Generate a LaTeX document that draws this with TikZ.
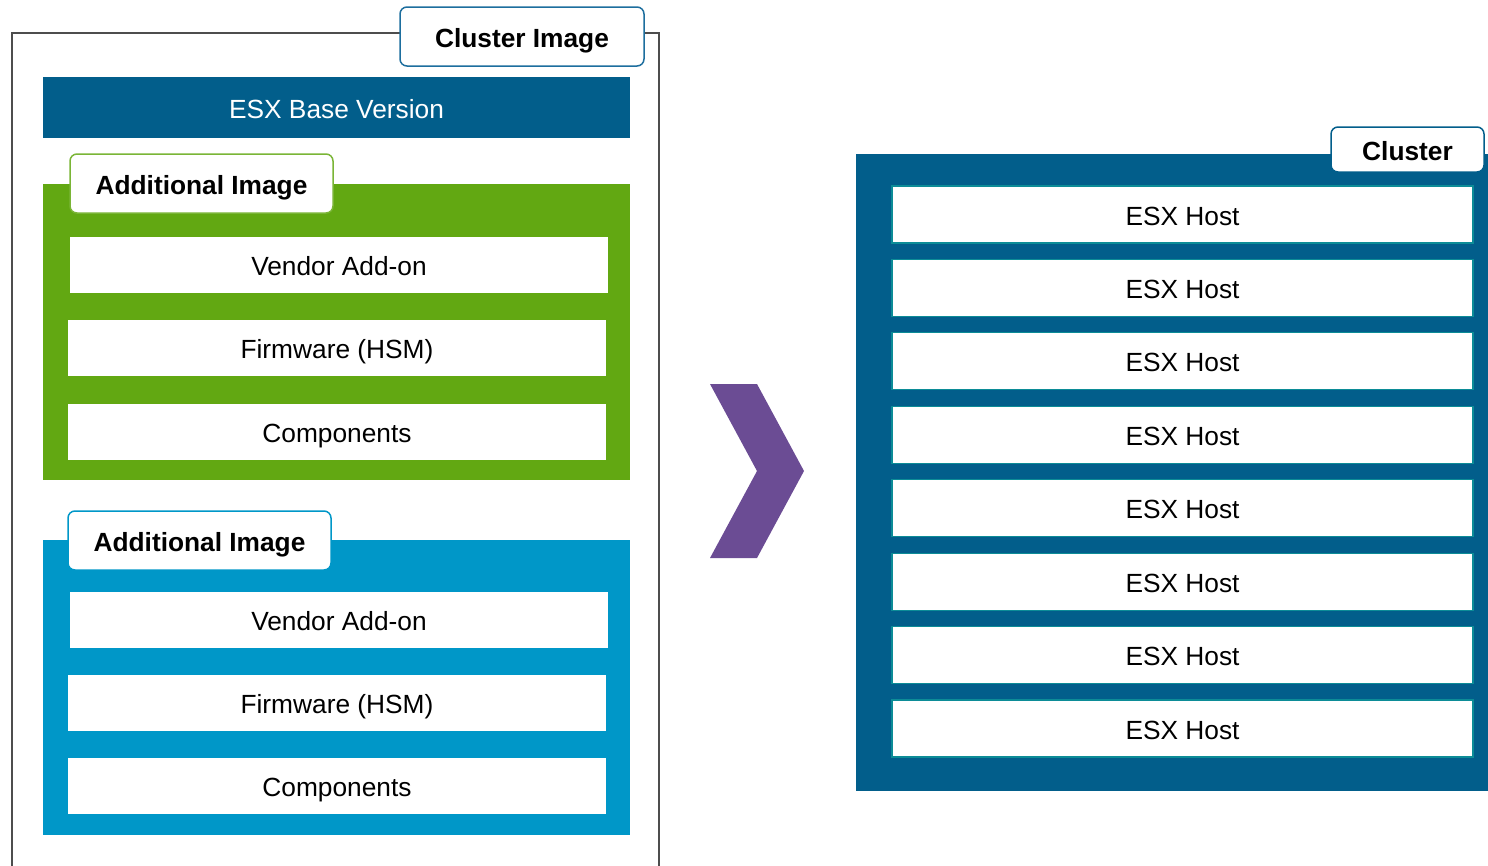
\documentclass[tikz,border=0pt]{standalone}
\usepackage{fontspec}
\setmainfont{Liberation Sans}
\usepackage{tikz}
\usetikzlibrary{positioning}
\definecolor{esxblue}{HTML}{025E8B}
\definecolor{addgreen}{HTML}{62A812}
\definecolor{addblue}{HTML}{0097C8}
\definecolor{chevpurple}{HTML}{6B4C94}
\definecolor{hostedge}{HTML}{0C8C97}
\definecolor{framegray}{HTML}{4D4D4D}
\definecolor{tabblue}{HTML}{1D6E9E}
\newcommand\boxfont{\fontsize{26.3}{30}\selectfont}
\newcommand\tabfont{\fontsize{26.3}{30}\selectfont\bfseries}
\tikzstyle{panel} = [rectangle, inner sep=0pt]
\tikzstyle{tab} = [rectangle, draw, fill=white, rounded corners=7pt, line width=1.5pt, inner sep=0pt, text height=22pt, text depth=0pt, font=\tabfont]
\tikzstyle{item} = [rectangle, fill=white, inner sep=0pt, minimum width=538pt, minimum height=56pt, text height=21pt, text depth=0pt, font=\boxfont]
\tikzstyle{host} = [item, draw=hostedge, line width=1.2pt, minimum width=581pt, minimum height=57pt]
\begin{document}
\begin{tikzpicture}[x=1pt, y=-1pt]
    \useasboundingbox (0,0) rectangle (1488,865);

    % cluster image frame
    \draw[framegray, line width=2pt] (12,875) -- (12,33) -- (659,33) -- (659,875);
    \node [tab, draw=tabblue, minimum width=244pt, minimum height=59pt] (clusterimage) at (522,36.5) {Cluster Image};
    \node [panel, fill=esxblue, minimum width=587pt, minimum height=61pt, text height=21pt, text depth=0pt, text=white, font=\boxfont] (base) at (336.5,107.5) {ESX Base Version};

    % green additional image
    \node [panel, fill=addgreen, minimum width=587pt, minimum height=296pt] (greenimage) at (336.5,332) {};
    \node [tab, draw=addgreen!85!white, minimum width=263pt, minimum height=59pt] (greentab) at (201.5,183.5) {Additional Image};
    \node [item] (greenvendor) at (339,265) {Vendor Add-on};
    \node [item] (greenfirmware) at (337,348) {Firmware (HSM)};
    \node [item] (greencomp) at (337,432) {Components};

    % blue additional image
    \node [panel, fill=addblue, minimum width=587pt, minimum height=295pt] (blueimage) at (336.5,687.5) {};
    \node [tab, draw=addblue, minimum width=263pt, minimum height=59pt] (bluetab) at (199.5,540.5) {Additional Image};
    \node [item] (bluevendor) at (339,620) {Vendor Add-on};
    \node [item] (bluefirmware) at (337,703) {Firmware (HSM)};
    \node [item] (bluecomp) at (337,786) {Components};

    % chevron
    \fill[chevpurple] (710,384) -- (757,384) -- (804,471) -- (757,558) -- (710,558) -- (757,471) -- cycle;

    % cluster
    \node [panel, fill=esxblue, minimum width=640pt, minimum height=637pt] (cluster) at (1176,472.5) {};
    \node [tab, draw=esxblue, minimum width=153pt, minimum height=45pt] (clustertab) at (1407.5,149.5) {Cluster};
    \foreach \i in {0,...,7}
        \node [host] (host\i) at (1182.5,214.5+73.43*\i) {ESX Host};

\end{tikzpicture}
\end{document}
